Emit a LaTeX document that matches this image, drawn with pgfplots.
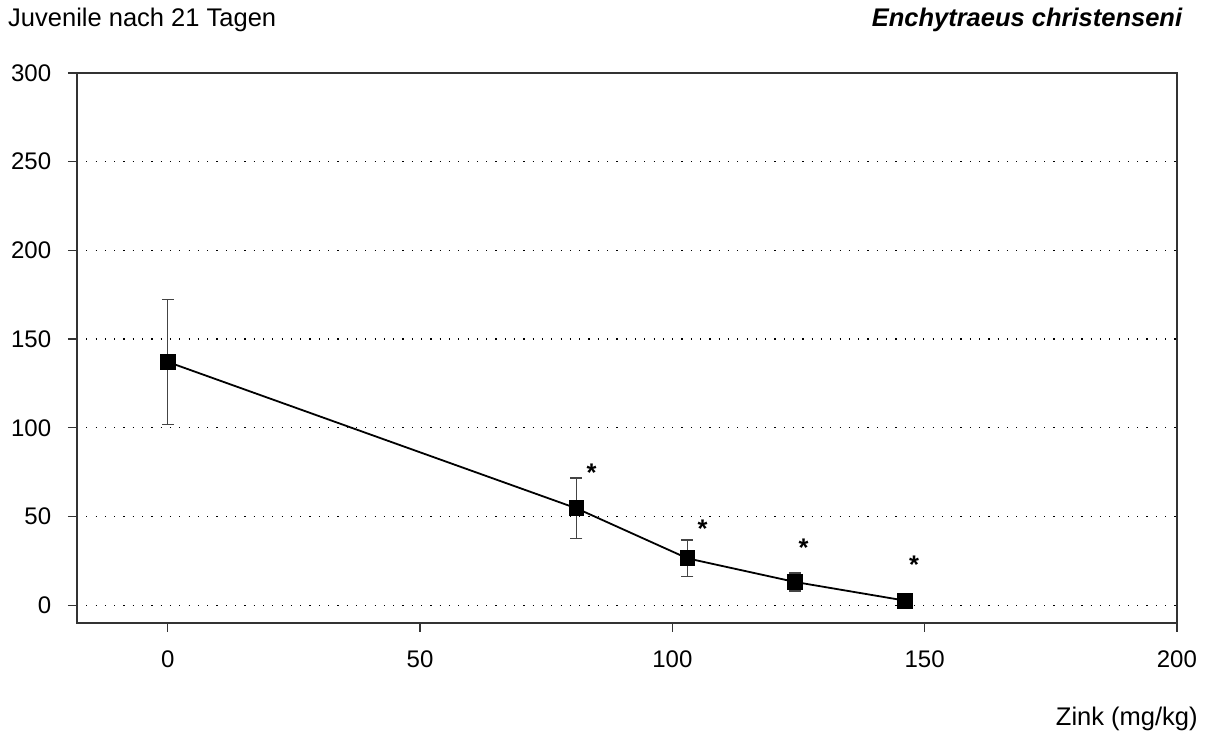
\documentclass[border=0pt]{standalone}
\usepackage{pgfplots}
\pgfplotsset{compat=1.18}
\usepackage{fontspec}
\setmainfont{Liberation Sans}

\definecolor{axgray}{HTML}{333333}
\definecolor{errgray}{HTML}{444444}

\begin{document}
\fontsize{17pt}{20pt}\selectfont
\begin{tikzpicture}
\useasboundingbox (-51.3pt,-79.3pt) rectangle (754.7pt,415.3pt);
\begin{axis}[
  at={(0,0)}, anchor=south west,
  scale only axis,
  width=733.3pt, height=366.7pt,
  xmin=-18, xmax=200,
  ymin=-10, ymax=300,
  xtick={0,50,100,150,200},
  ytick={0,50,100,150,200,250,300},
  xtick pos=bottom, ytick pos=left,
  tick align=outside,
  major tick length=6pt,
  axis line style={axgray, line width=0.9pt},
  every tick/.style={axgray, line width=0.9pt},
  ymajorgrids,
  major grid style={black, line width=0.8pt, dash pattern=on 0.8pt off 5.4pt},
  /pgf/number format/assume math mode=true,
  tick label style={font=\fontsize{16pt}{19pt}\selectfont, inner sep=4pt},
  yticklabel style={xshift=-7pt},
  xticklabel style={yshift=-8pt},
]
\addplot[black, line width=1.2pt, mark=square*, mark size=4.7pt,
  error bars/.cd, y dir=both, y explicit,
  error bar style={errgray, line width=0.9pt},
  error mark options={rotate=90, mark size=4pt, errgray, line width=0.9pt}]
  coordinates {
  (0, 137.1) +- (0, 35.3)
  (81, 54.6) +- (0, 17)
  (103, 26.4) +- (0, 10.3)
  (124.3, 13.1) +- (0, 5)
  (146.1, 2.6) +- (0, 0)
};
\addplot[draw=none, mark=none, nodes near coords={\bfseries *},
  every node near coord/.style={anchor=center, inner sep=0pt, black}]
  coordinates {
  (84, 74.5)
  (106, 43)
  (126, 32.5)
  (147.9, 22.8)
};
\end{axis}
\node[anchor=base west, inner sep=0pt] at (-46pt, 397.5pt) {Juvenile nach 21 Tagen};
\node[anchor=base east, inner sep=0pt] at (737pt, 397.5pt) {\bfseries\itshape Enchytraeus christenseni};
\node[anchor=base east, inner sep=0pt] at (747.3pt, -68.7pt) {Zink (mg/kg)};
\end{tikzpicture}
\end{document}
